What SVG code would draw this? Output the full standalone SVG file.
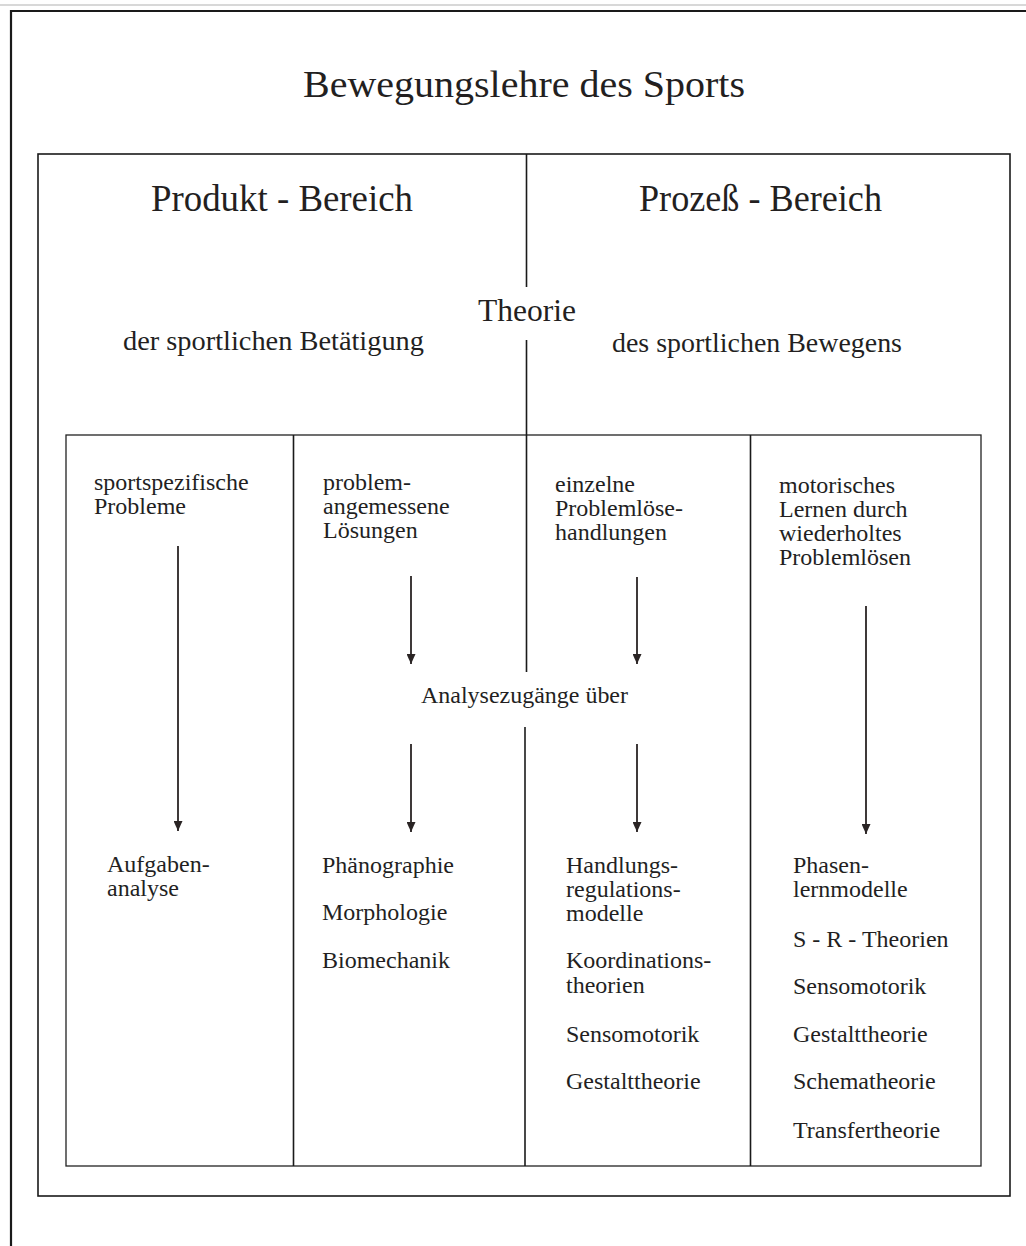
<svg xmlns="http://www.w3.org/2000/svg" width="1026" height="1246" viewBox="0 0 1026 1246">
<style>
text { font-family: "Liberation Serif", "Times New Roman", serif; fill: #231f1f; }
.title { font-size: 38px; }
.head { font-size: 37px; }
.theo { font-size: 32px; }
.sub { font-size: 28px; }
.cell { font-size: 24px; }
.frame { fill: none; stroke: #1a1a1a; stroke-width: 1.6; }
.inner { fill: none; stroke: #222; stroke-width: 1.3; }
.div { stroke: #1a1a1a; stroke-width: 1.6; fill: none; }
.arrow { stroke: #2a2424; stroke-width: 1.8; fill: none; marker-end: url(#ah); }
</style>
<defs>
<marker id="ah" markerUnits="userSpaceOnUse" markerWidth="10" markerHeight="9" refX="10" refY="4.5" orient="auto" viewBox="0 0 10 9">
<path d="M0,0 L10,4.5 L0,9 Z" fill="#2a2424"/>
</marker>
</defs>
<rect width="1026" height="1246" fill="#ffffff"/>
<line x1="0" y1="5" x2="1026" y2="5" stroke="#d8d8d8" stroke-width="2"/>
<g id="page-border">
<path d="M11,1246 L11,11 L1026,11" fill="none" stroke="#1a1a1a" stroke-width="2.2"/>
</g>
<g id="title">
<text class="title" x="303" y="97" textLength="442" lengthAdjust="spacingAndGlyphs">Bewegungslehre des Sports</text>
</g>
<g id="main-box">
<rect class="frame" x="38" y="154" width="972" height="1042"/>
</g>
<g id="produkt-bereich">
<text class="head" x="151" y="211" textLength="262" lengthAdjust="spacingAndGlyphs">Produkt - Bereich</text>
<text class="sub" x="123" y="350" textLength="301" lengthAdjust="spacingAndGlyphs">der sportlichen Betätigung</text>
</g>
<g id="prozess-bereich">
<text class="head" x="639" y="211" textLength="243" lengthAdjust="spacingAndGlyphs">Prozeß - Bereich</text>
<text class="sub" x="612" y="352" textLength="290" lengthAdjust="spacingAndGlyphs">des sportlichen Bewegens</text>
</g>
<g id="theorie">
<text class="theo" x="478" y="321" textLength="98" lengthAdjust="spacingAndGlyphs">Theorie</text>
</g>
<g id="inner-box">
<rect class="inner" x="66" y="435" width="915" height="731"/>
<line class="div" x1="293.5" y1="435" x2="293.5" y2="1166"/>
<line class="div" x1="750.5" y1="435" x2="750.5" y2="1166"/>
</g>
<g id="center-divider">
<line class="div" x1="526.5" y1="154" x2="526.5" y2="287"/>
<line class="div" x1="526.5" y1="340" x2="526.5" y2="672"/>
<line class="div" x1="525" y1="727" x2="525" y2="1166"/>
</g>
<g id="analysezugaenge">
<text class="cell" x="421" y="703" textLength="207" lengthAdjust="spacingAndGlyphs">Analysezugänge über</text>
</g>
<g id="col1-top">
<text class="cell" x="94" y="490">sportspezifische</text>
<text class="cell" x="94" y="514">Probleme</text>
</g>
<g id="col2-top">
<text class="cell" x="323" y="490">problem-</text>
<text class="cell" x="323" y="514">angemessene</text>
<text class="cell" x="323" y="538">Lösungen</text>
</g>
<g id="col3-top">
<text class="cell" x="555" y="492">einzelne</text>
<text class="cell" x="555" y="516">Problemlöse-</text>
<text class="cell" x="555" y="540">handlungen</text>
</g>
<g id="col4-top">
<text class="cell" x="779" y="493">motorisches</text>
<text class="cell" x="779" y="517">Lernen durch</text>
<text class="cell" x="779" y="541">wiederholtes</text>
<text class="cell" x="779" y="565">Problemlösen</text>
</g>
<g id="col1-bottom">
<text class="cell" x="107" y="872">Aufgaben-</text>
<text class="cell" x="107" y="896">analyse</text>
</g>
<g id="col2-bottom">
<text class="cell" x="322" y="873">Phänographie</text>
<text class="cell" x="322" y="920">Morphologie</text>
<text class="cell" x="322" y="968">Biomechanik</text>
</g>
<g id="col3-bottom">
<text class="cell" x="566" y="873">Handlungs-</text>
<text class="cell" x="566" y="897">regulations-</text>
<text class="cell" x="566" y="921">modelle</text>
<text class="cell" x="566" y="968">Koordinations-</text>
<text class="cell" x="566" y="993">theorien</text>
<text class="cell" x="566" y="1042">Sensomotorik</text>
<text class="cell" x="566" y="1089">Gestalttheorie</text>
</g>
<g id="col4-bottom">
<text class="cell" x="793" y="873">Phasen-</text>
<text class="cell" x="793" y="897">lernmodelle</text>
<text class="cell" x="793" y="947">S - R - Theorien</text>
<text class="cell" x="793" y="994">Sensomotorik</text>
<text class="cell" x="793" y="1042">Gestalttheorie</text>
<text class="cell" x="793" y="1089">Schematheorie</text>
<text class="cell" x="793" y="1138">Transfertheorie</text>
</g>
<g id="connectors">
<line class="arrow" x1="178" y1="546" x2="178" y2="831"/>
<line class="arrow" x1="411" y1="576" x2="411" y2="664"/>
<line class="arrow" x1="637" y1="577" x2="637" y2="664"/>
<line class="arrow" x1="411" y1="744" x2="411" y2="832"/>
<line class="arrow" x1="637" y1="744" x2="637" y2="832"/>
<line class="arrow" x1="866" y1="606" x2="866" y2="834"/>
</g>
</svg>
